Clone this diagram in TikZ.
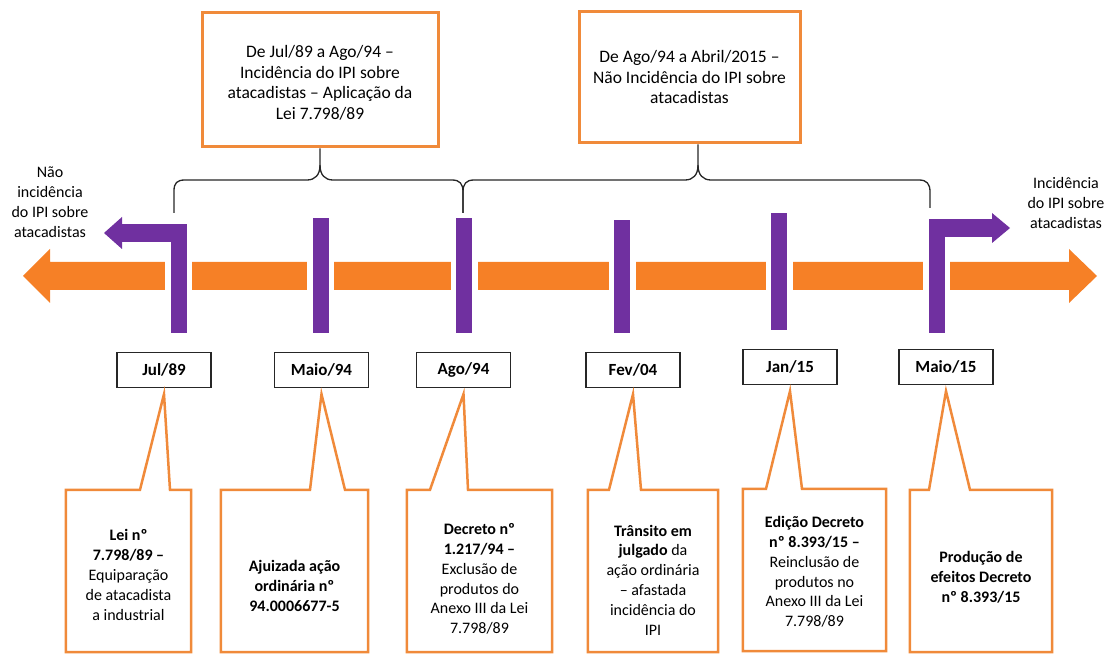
\documentclass[tikz,border=0pt]{standalone}
\usepackage{fontspec}
\setmainfont{Carlito}
\definecolor{tlorange}{RGB}{246,128,38}
\definecolor{tlpurple}{RGB}{112,48,160}
\definecolor{boxorange}{RGB}{240,138,58}
\begin{document}
\begin{tikzpicture}[x=1pt,y=-1pt,
  topbox/.style={draw=boxorange, line width=3pt, fill=white, inner sep=0pt},
  toptext/.style={align=center, font=\fontsize{17.5}{20.5}\selectfont},
  datebox/.style={draw=black!85, line width=1.3pt, fill=white, minimum width=94pt, minimum height=35pt, inner sep=0pt, font=\fontsize{17}{20}\selectfont\bfseries},
  tlbar/.style={fill=tlpurple, draw=white, line width=5.5pt, minimum width=21.5pt, inner sep=0pt},
  callbox/.style={draw=none, inner sep=0pt, minimum height=162pt},
  callout/.style={draw=boxorange, line width=2.5pt, fill=white, line join=miter},
  ctext/.style={align=center, font=\fontsize{16}{19.8}\selectfont},
  brace/.style={draw=black!85, line width=1.3pt},
  sidelabel/.style={align=center, font=\fontsize{16}{20}\selectfont}]
\useasboundingbox (0,0) rectangle (1106,660);

% timeline band
\fill[tlorange] (23,276) -- (50,249) -- (50,262) -- (1069,262) -- (1069,249) -- (1097,276) -- (1069,303) -- (1069,290) -- (50,290) -- (50,303) -- cycle;

% bars
\node[tlbar, minimum height=114.5pt] (b1) at (178.5,278.5) {};
\node[tlbar, minimum height=120.5pt] (b2) at (320.5,275.5) {};
\node[tlbar, minimum height=120.5pt] (b3) at (464,275.5) {};
\node[tlbar, minimum height=118.5pt] (b4) at (622,276.5) {};
\node[tlbar, minimum height=122.5pt] (b5) at (779,271.5) {};
\node[tlbar, minimum height=119.5pt] (b6) at (936.5,276) {};

% L arrows
\fill[tlpurple] (186.5,224) rectangle (122,242);
\fill[tlpurple] (122,217) -- (104,233) -- (122,249) -- cycle;
\fill[tlpurple] (928.5,219) rectangle (992,237);
\fill[tlpurple] (992,213) -- (1010,228) -- (992,243) -- cycle;

% top boxes
\node[topbox, minimum width=236pt, minimum height=134pt] (tb1) at (320,80) {};
\node[toptext] (tt1) at (320,83) {De Jul/89 a Ago/94 –\\Incidência do IPI sobre\\atacadistas – Aplicação da\\Lei 7.798/89};
\node[topbox, minimum width=221pt, minimum height=131pt] (tb2) at (689.5,77.5) {};
\node[toptext] (tt2) at (689.5,77) {De Ago/94 a Abril/2015 –\\Não Incidência do IPI sobre\\atacadistas};

% braces
\draw[brace] (174,213) -- (174,191) .. controls (174,183) and (177,180) .. (185,180) -- (307,180) .. controls (315,180) and (320,175) .. (320,165) -- (tb1.south);
\draw[brace] (320,165) .. controls (320,175) and (325,180) .. (333,180) -- (452,180) .. controls (460,180) and (463,184) .. (463,192) -- (463,213);
\draw[brace] (463,213) -- (463,192) .. controls (463,184) and (466,180) .. (474,180) -- (685,180) .. controls (693,180) and (698,175) .. (698,165) -- (698,0 |- tb2.south);
\draw[brace] (698,165) .. controls (698,175) and (703,180) .. (711,180) -- (919,180) .. controls (927,180) and (930,184) .. (930,192) -- (930,208);

% side labels
\node[sidelabel] (lleft) at (50,202) {Não\\incidência\\do IPI sobre\\atacadistas};
\node[sidelabel] (lright) at (1066,203) {Incidência\\do IPI sobre\\atacadistas};

% date boxes
\node[datebox] (d1) at (164,370) {Jul/89};
\node[datebox] (d2) at (321.5,370) {Maio/94};
\node[datebox] (d3) at (463.5,370) {Ago/94};
\node[datebox] (d4) at (633,370) {Fev/04};
\node[datebox] (d5) at (790,367) {Jan/15};
\node[datebox] (d6) at (946,367) {Maio/15};

% callouts
\node[callbox, minimum width=125pt] (c1) at (128.5,571) {};
\draw[callout] (c1.north west) -- (140,0 |- c1.north) -- ([yshift=-6pt]d1.south) -- (170,0 |- c1.north) -- (c1.north east) -- (c1.south east) -- (c1.south west) -- cycle;
\node[ctext] (t1) at (128.5,575) {\textbf{Lei nº}\\\textbf{7.798/89 –}\\Equiparação\\de atacadista\\a industrial};

\node[callbox, minimum width=147pt] (c2) at (294.5,571) {};
\draw[callout] (c2.north west) -- (310,0 |- c2.north) -- ([yshift=-6pt]d2.south) -- (345,0 |- c2.north) -- (c2.north east) -- (c2.south east) -- (c2.south west) -- cycle;
\node[ctext, font=\fontsize{16}{19.8}\selectfont\bfseries] (t2) at (294.5,586) {Ajuizada ação\\ordinária nº\\94.0006677-5};

\node[callbox, minimum width=145pt] (c3) at (479.5,571) {};
\draw[callout] (c3.north west) -- (430,0 |- c3.north) -- ([yshift=-6pt]d3.south) -- (468,0 |- c3.north) -- (c3.north east) -- (c3.south east) -- (c3.south west) -- cycle;
\node[ctext] (t3) at (479.5,579) {\textbf{Decreto nº}\\\textbf{1.217/94 –}\\Exclusão de\\produtos do\\Anexo III da Lei\\7.798/89};

\node[callbox, minimum width=130pt] (c4) at (653,571) {};
\draw[callout] (c4.north west) -- (609,0 |- c4.north) -- ([yshift=-6pt]d4.south) -- (641,0 |- c4.north) -- (c4.north east) -- (c4.south east) -- (c4.south west) -- cycle;
\node[ctext] (t4) at (653,580) {\textbf{Trânsito em}\\\textbf{julgado} da\\ação ordinária\\– afastada\\incidência do\\IPI};

\node[callbox, minimum width=143pt] (c5) at (814.5,570) {};
\draw[callout] (c5.north west) -- (766,0 |- c5.north) -- ([yshift=-6pt]d5.south) -- (802,0 |- c5.north) -- (c5.north east) -- (c5.south east) -- (c5.south west) -- cycle;
\node[ctext] (t5) at (814.5,572) {\textbf{Edição Decreto}\\\textbf{nº 8.393/15 –}\\Reinclusão de\\produtos no\\Anexo III da Lei\\7.798/89};

\node[callbox, minimum width=142pt] (c6) at (981,571) {};
\draw[callout] (c6.north west) -- (929,0 |- c6.north) -- ([yshift=-6pt]d6.south) -- (970,0 |- c6.north) -- (c6.north east) -- (c6.south east) -- (c6.south west) -- cycle;
\node[ctext, font=\fontsize{16}{19.8}\selectfont\bfseries] (t6) at (981,577) {Produção de\\efeitos Decreto\\nº 8.393/15};
\end{tikzpicture}
\end{document}
